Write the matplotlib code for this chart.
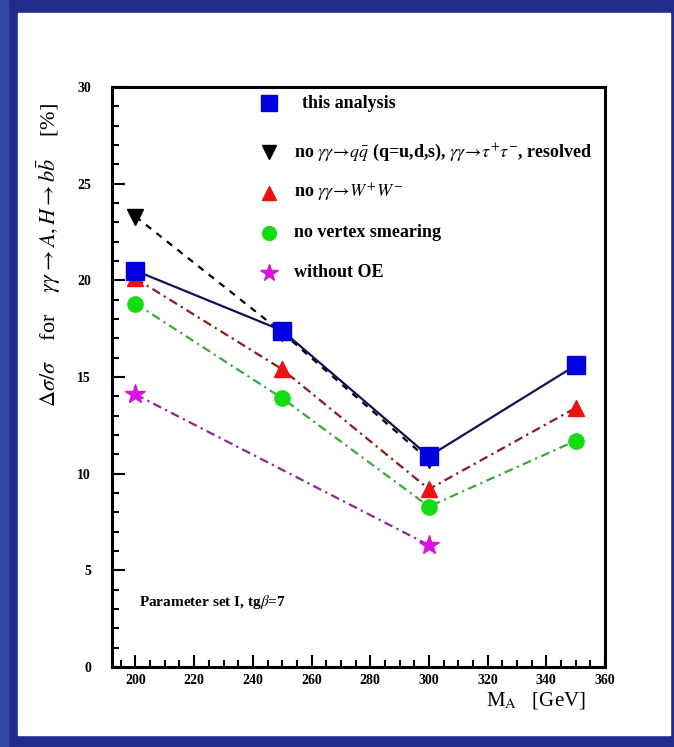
import numpy as np
import matplotlib.pyplot as plt
from matplotlib.patches import Rectangle
from matplotlib.ticker import MultipleLocator

plt.rcParams['font.family'] = ['Liberation Serif', 'DejaVu Serif']
plt.rcParams['mathtext.fontset'] = 'stix'

# mass points [GeV] and relative precision [%]
mass = [200, 250, 300, 350]
this_analysis = [20.5, 17.4, 10.9, 15.6]
no_qq = [23.3, 17.3, 10.7]
no_ww = [20.1, 15.4, 9.2, 13.4]
no_vtx = [18.8, 13.9, 8.3, 11.7]
mass_oe = [200, 300]
without_oe = [14.1, 6.3]

labels = ['this analysis',
          r'no $\gamma\gamma\!\rightarrow\! q\bar{q}$ (q=u,d,s), $\gamma\gamma\!\rightarrow\!\tau^{+}\tau^{-}$, resolved',
          r'no $\gamma\gamma\!\rightarrow\! W^{+}W^{-}$',
          'no vertex smearing',
          'without OE']

fig = plt.figure(figsize=(6.74, 7.47), dpi=100)
fig.patch.set_facecolor('#232c8c')
fig.patches.append(Rectangle((0.0, 0.0), 0.012, 1, transform=fig.transFigure,
                             color='#3349a8', zorder=-10))
fig.patches.append(Rectangle((18/674, 12/747), 652/674, 722/747,
                             transform=fig.transFigure, color='white', zorder=-10))

ax = fig.add_axes([112/674, 80/747, 493/674, 580/747])
ax.set_facecolor('none')

ax.plot(mass[:3], no_qq, color='black', ls=(0, (3, 3)), lw=1.6, zorder=2)
ax.plot(mass, no_ww, color='#8b1a1a', ls=(0, (4, 2, 1, 2)), lw=1.6, zorder=2)
ax.plot(mass, no_vtx, color='#3aa83a', ls=(0, (4, 2, 1, 2)), lw=1.6, zorder=2)
ax.plot(mass_oe, without_oe, color='#8b2a8b', ls=(0, (4, 2, 1, 2)), lw=1.6, zorder=2)
ax.plot(mass, this_analysis, color='#10105a', ls='-', lw=1.6, zorder=2)

ax.plot(mass[:3], no_qq, 'v', color='black', ms=11, ls='none', zorder=3)
ax.plot(mass, no_ww, '^', color='#ee1111', ms=11, ls='none', zorder=3)
ax.plot(mass, no_vtx, 'o', color='#11dd11', ms=11, ls='none', zorder=3)
ax.plot(mass_oe, without_oe, '*', color='#dd11dd', ms=15, ls='none', zorder=3)
ax.plot(mass, this_analysis, 's', color='#0000e0', ms=13, ls='none', zorder=4)

ax.set_xlim(192, 360)
ax.set_ylim(0, 30)
ax.xaxis.set_major_locator(MultipleLocator(20))
ax.xaxis.set_minor_locator(MultipleLocator(5))
ax.yaxis.set_major_locator(MultipleLocator(5))
ax.yaxis.set_minor_locator(MultipleLocator(1))
ax.tick_params(which='both', direction='in', top=False, right=False,
               labelsize=10, width=1.5)
ax.tick_params(which='major', length=9)
ax.tick_params(which='minor', length=5)
ax.tick_params(axis='x', which='major', pad=5)
ax.tick_params(axis='y', which='major', pad=15)
for lab in ax.get_xticklabels() + ax.get_yticklabels():
    lab.set_fontweight('bold')
for sp in ax.spines.values():
    sp.set_linewidth(2.2)

ax.set_ylabel(r'$\Delta\sigma/\sigma$    for    $\gamma\gamma\rightarrow A,H\rightarrow b\bar{b}$    [%]',
              fontsize=16)
ax.yaxis.set_label_coords(-0.10, 0.71)
ax.set_xlabel(r'M$_{\rm A}$   [GeV]', fontsize=15)
ax.xaxis.set_label_coords(0.86, -0.04)

# legend drawn as explicit rows
mk = [('s', '#0000e0', 12), ('v', 'black', 10), ('^', '#ee1111', 10),
      ('o', '#11dd11', 10), ('*', '#dd11dd', 13)]
rows_y = [0.972, 0.888, 0.818, 0.749, 0.680]
for (m, c, s), yy, t in zip(mk, rows_y, labels):
    ax.plot([0.318], [yy], marker=m, color=c, ms=s, transform=ax.transAxes,
            clip_on=False, ls='none')
    ax.text(0.385 if t == 'this analysis' else 0.37, yy, t, transform=ax.transAxes,
            fontsize=13, fontweight='bold', va='center', ha='left')

ax.text(0.055, 0.105, r'Parameter set I, tg$\beta$=7', transform=ax.transAxes,
        fontsize=11, fontweight='bold')

fig.savefig('out.png', dpi=100, facecolor=fig.get_facecolor())
